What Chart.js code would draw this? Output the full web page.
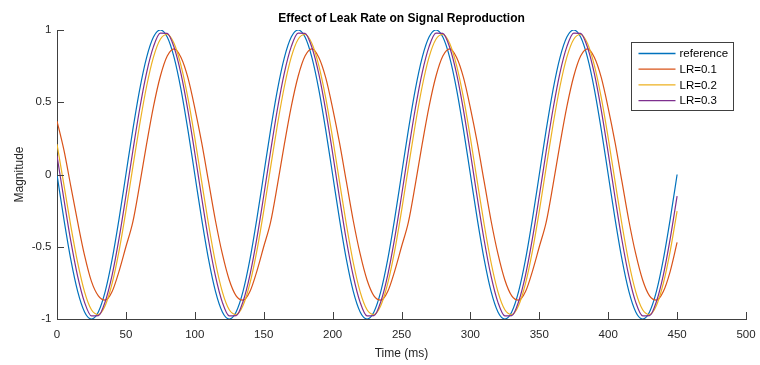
<!DOCTYPE html>
<html>
<head>
<meta charset="utf-8">
<script src="https://cdn.jsdelivr.net/npm/chart.js@4.4.1/dist/chart.umd.min.js"></script>
<style>
    body { margin: 0; background: #fff; }
    #wrap { width: 760px; height: 365px; position: relative; }
</style>
</head>
<body>
<div id="wrap"><canvas id="Leak_Chart"></canvas></div>
<script>
// Tijdas (ms) en tick labels
const timeMs = [
    0, 5, 10, 15, 20, 25, 30, 35, 40, 45, 50, 55, 60, 65, 70, 75, 80, 85, 90, 95,
    100, 105, 110, 115, 120, 125, 130, 135, 140, 145, 150, 155, 160, 165, 170, 175, 180, 185, 190, 195,
    200, 205, 210, 215, 220, 225, 230, 235, 240, 245, 250, 255, 260, 265, 270, 275, 280, 285, 290, 295,
    300, 305, 310, 315, 320, 325, 330, 335, 340, 345, 350, 355, 360, 365, 370, 375, 380, 385, 390, 395,
    400, 405, 410, 415, 420, 425, 430, 435, 440, 445, 450
];
const xTickLabels = ['0', '50', '100', '150', '200', '250', '300', '350', '400', '450', '500'];
const yTickLabels = ['-1', '-0.5', '0', '0.5', '1'];

// Series (per 100 ms een regel)
const referenceSignal = [
    0, -0.309, -0.588, -0.809, -0.951, -1, -0.951, -0.809, -0.588, -0.309, 0, 0.309, 0.588, 0.809, 0.951, 1, 0.951, 0.809, 0.588, 0.309,
    0, -0.309, -0.588, -0.809, -0.951, -1, -0.951, -0.809, -0.588, -0.309, 0, 0.309, 0.588, 0.809, 0.951, 1, 0.951, 0.809, 0.588, 0.309,
    0, -0.309, -0.588, -0.809, -0.951, -1, -0.951, -0.809, -0.588, -0.309, 0, 0.309, 0.588, 0.809, 0.951, 1, 0.951, 0.809, 0.588, 0.309,
    0, -0.309, -0.588, -0.809, -0.951, -1, -0.951, -0.809, -0.588, -0.309, 0, 0.309, 0.588, 0.809, 0.951, 1, 0.951, 0.809, 0.588, 0.309,
    0, -0.309, -0.588, -0.809, -0.951, -1, -0.951, -0.809, -0.588, -0.309, 0
];
const lr01 = [
    0.37, 0.17, -0.08, -0.33, -0.56, -0.74, -0.84, -0.87, -0.81, -0.67, -0.50, -0.33, -0.07, 0.21, 0.47, 0.68, 0.82, 0.87, 0.81, 0.67,
    0.46, 0.22, -0.05, -0.32, -0.55, -0.73, -0.84, -0.87, -0.81, -0.67, -0.50, -0.33, -0.07, 0.21, 0.47, 0.68, 0.82, 0.87, 0.81, 0.67,
    0.46, 0.22, -0.05, -0.32, -0.55, -0.73, -0.84, -0.87, -0.81, -0.67, -0.50, -0.33, -0.07, 0.21, 0.47, 0.68, 0.82, 0.87, 0.81, 0.67,
    0.46, 0.22, -0.05, -0.32, -0.55, -0.73, -0.84, -0.87, -0.81, -0.67, -0.50, -0.33, -0.07, 0.21, 0.47, 0.68, 0.82, 0.87, 0.81, 0.67,
    0.46, 0.22, -0.05, -0.32, -0.55, -0.73, -0.84, -0.87, -0.81, -0.67, -0.47
];
const lr02 = [
    0.21, -0.07, -0.355, -0.61, -0.812, -0.936, -0.969, -0.907, -0.754, -0.530, -0.253, 0.049, 0.346, 0.609, 0.812, 0.936, 0.969, 0.907, 0.754, 0.530,
    0.253, -0.049, -0.346, -0.609, -0.812, -0.936, -0.969, -0.907, -0.754, -0.530, -0.253, 0.049, 0.346, 0.609, 0.812, 0.936, 0.969, 0.907, 0.754, 0.530,
    0.253, -0.049, -0.346, -0.609, -0.812, -0.936, -0.969, -0.907, -0.754, -0.530, -0.253, 0.049, 0.346, 0.609, 0.812, 0.936, 0.969, 0.907, 0.754, 0.530,
    0.253, -0.049, -0.346, -0.609, -0.812, -0.936, -0.969, -0.907, -0.754, -0.530, -0.253, 0.049, 0.346, 0.609, 0.812, 0.936, 0.969, 0.907, 0.754, 0.530,
    0.253, -0.049, -0.346, -0.609, -0.812, -0.936, -0.969, -0.907, -0.754, -0.530, -0.253
];
const lr03 = [
    0.13, -0.17, -0.46, -0.705, -0.885, -0.979, -0.977, -0.879, -0.696, -0.444, -0.149, 0.161, 0.455, 0.704, 0.885, 0.979, 0.977, 0.879, 0.696, 0.444,
    0.149, -0.161, -0.455, -0.704, -0.885, -0.979, -0.977, -0.879, -0.696, -0.444, -0.149, 0.161, 0.455, 0.704, 0.885, 0.979, 0.977, 0.879, 0.696, 0.444,
    0.149, -0.161, -0.455, -0.704, -0.885, -0.979, -0.977, -0.879, -0.696, -0.444, -0.149, 0.161, 0.455, 0.704, 0.885, 0.979, 0.977, 0.879, 0.696, 0.444,
    0.149, -0.161, -0.455, -0.704, -0.885, -0.979, -0.977, -0.879, -0.696, -0.444, -0.149, 0.161, 0.455, 0.704, 0.885, 0.979, 0.977, 0.879, 0.696, 0.444,
    0.149, -0.161, -0.455, -0.704, -0.885, -0.979, -0.977, -0.879, -0.696, -0.444, -0.149
];
const seriesLabels = ['reference', 'LR=0.1', 'LR=0.2', 'LR=0.3'];

const axisColor = '#404040';
const textColor = '#262626';
const labelFont = 'Liberation Sans, Arial, sans-serif';

function toPoints(values) {
    return timeMs.map((t, i) => ({ x: t, y: values[i] }));
}

// Ticks naar binnen, zoals in de originele figuur
const innerTicks = {
    id: 'innerTicks',
    afterDraw(chart) {
        const ctx = chart.ctx;
        const area = chart.chartArea;
        const xs = chart.scales.x, ys = chart.scales.y;
        ctx.save();
        ctx.strokeStyle = axisColor;
        ctx.lineWidth = 1;
        ctx.beginPath();
        xs.ticks.forEach(tk => {
            const px = Math.round(xs.getPixelForValue(tk.value)) + 0.5;
            ctx.moveTo(px, area.bottom);
            ctx.lineTo(px, area.bottom - 7);
        });
        ys.ticks.forEach(tk => {
            const py = Math.round(ys.getPixelForValue(tk.value)) + 0.5;
            ctx.moveTo(area.left, py);
            ctx.lineTo(area.left + 7, py);
        });
        ctx.stroke();
        ctx.restore();
    }
};

// Legenda binnen het plotvlak (rechtsboven)
const boxLegend = {
    id: 'boxLegend',
    afterDraw(chart) {
        const ctx = chart.ctx;
        const area = chart.chartArea;
        const left = Math.round(area.right - 115) + 0.5;
        const top = Math.round(area.top + 12) + 0.5;
        const sets = chart.data.datasets;
        ctx.save();
        ctx.fillStyle = '#fff';
        ctx.fillRect(left, top, 102, 68);
        ctx.strokeStyle = axisColor;
        ctx.lineWidth = 1;
        ctx.strokeRect(left, top, 102, 68);
        ctx.font = '11.5px ' + labelFont;
        ctx.textBaseline = 'middle';
        ctx.textAlign = 'left';
        sets.forEach((ds, i) => {
            const y = top + 11 + i * 15.7;
            ctx.strokeStyle = ds.borderColor;
            ctx.lineWidth = 1.3;
            ctx.beginPath();
            ctx.moveTo(left + 7, y);
            ctx.lineTo(left + 44, y);
            ctx.stroke();
            ctx.fillStyle = '#000';
            ctx.fillText(ds.label, left + 48, y + 0.5);
        });
        ctx.restore();
    }
};

var ctx = document.getElementById('Leak_Chart').getContext('2d');
var leakChart = new Chart(ctx, {
    type: 'line',
    data: {
        datasets: [
            { label: seriesLabels[0], data: toPoints(referenceSignal), borderColor: '#0072BD', order: 4 },
            { label: seriesLabels[1], data: toPoints(lr01), borderColor: '#D95319', order: 3 },
            { label: seriesLabels[2], data: toPoints(lr02), borderColor: '#EDB120', order: 2 },
            { label: seriesLabels[3], data: toPoints(lr03), borderColor: '#7E2F8E', order: 1 }
        ]
    },
    options: {
        responsive: true,
        maintainAspectRatio: false,
        devicePixelRatio: 1,
        animation: false,
        layout: { padding: { left: 0, right: 14, top: 0, bottom: 0 } },
        elements: {
            point: { radius: 0 },
            line: { borderWidth: 1.2, cubicInterpolationMode: 'monotone', fill: false }
        },
        plugins: {
            legend: { display: false },
            tooltip: { enabled: false },
            title: {
                display: true,
                fullSize: false,
                text: 'Effect of Leak Rate on Signal Reproduction',
                color: '#000',
                font: { family: labelFont, size: 12, weight: 'bold' },
                padding: { top: 11, bottom: 4.6 }
            }
        },
        scales: {
            x: {
                type: 'linear',
                min: 0,
                max: 500,
                ticks: {
                    stepSize: 50,
                    maxRotation: 0,
                    autoSkip: false,
                    padding: 9,
                    color: textColor,
                    font: { family: labelFont, size: 11.5 },
                    callback: (v) => xTickLabels[Math.round(v / 50)]
                },
                grid: { display: false, drawTicks: false },
                border: { display: true, color: axisColor, width: 1 },
                title: {
                    display: true,
                    text: 'Time (ms)',
                    color: textColor,
                    font: { family: labelFont, size: 12 },
                    padding: { top: 0, bottom: 4 }
                },
                afterFit(scale) {
                    scale.height = 46;
                    scale.paddingLeft = 0;
                    scale.paddingRight = 0;
                }
            },
            y: {
                min: -1,
                max: 1,
                ticks: {
                    stepSize: 0.5,
                    padding: 5.5,
                    color: textColor,
                    font: { family: labelFont, size: 11.5 },
                    callback: (v) => yTickLabels[Math.round((v + 1) / 0.5)]
                },
                grid: { display: false, drawTicks: false },
                border: { display: true, color: axisColor, width: 1 },
                title: {
                    display: true,
                    text: 'Magnitude',
                    color: textColor,
                    font: { family: labelFont, size: 12 },
                    padding: { top: 12, bottom: 0 }
                },
                afterFit(scale) {
                    scale.width = 57;
                    scale.paddingTop = 0;
                    scale.paddingBottom = 0;
                }
            }
        }
    },
    plugins: [innerTicks, boxLegend]
});
</script>
</body>
</html>
